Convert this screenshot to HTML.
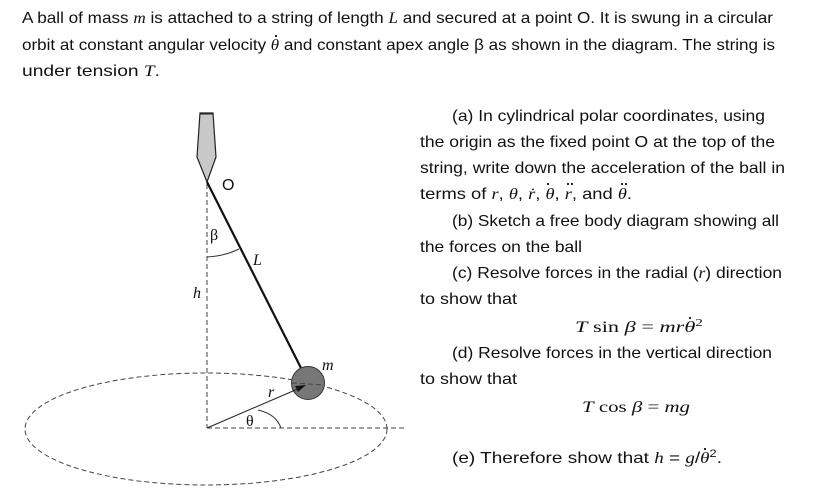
<!DOCTYPE html>
<html><head><meta charset="utf-8"><style>
html,body{margin:0;padding:0;background:#fff;}
svg{display:block;}
text{font-family:"Liberation Sans",sans-serif;font-size:16px;fill:#111;}
.m{font-family:"Liberation Serif",serif;font-style:italic;}
.r{font-family:"Liberation Serif",serif;}
</style></head><body>
<svg width="830" height="504" viewBox="0 0 830 504" xmlns="http://www.w3.org/2000/svg">
<text x="22" y="23" textLength="751" lengthAdjust="spacingAndGlyphs">A ball of mass <tspan class="m">m</tspan> is attached to a string of length <tspan class="m">L</tspan> and secured at a point O. It is swung in a circular</text>
<text x="22" y="50" textLength="753" lengthAdjust="spacingAndGlyphs">orbit at constant angular velocity <tspan class="m">θ</tspan> and constant apex angle β as shown in the diagram. The string is</text>
<text x="22" y="76" textLength="138" lengthAdjust="spacingAndGlyphs">under tension <tspan class="m">T</tspan>.</text>

<text x="452" y="121" textLength="313" lengthAdjust="spacingAndGlyphs">(a)  In cylindrical polar coordinates, using</text>
<text x="420" y="147" textLength="355" lengthAdjust="spacingAndGlyphs">the origin as the fixed point O at the top of the</text>
<text x="420" y="173" textLength="365" lengthAdjust="spacingAndGlyphs">string, write down the acceleration of the ball in</text>
<text x="420" y="199" textLength="212" lengthAdjust="spacingAndGlyphs">terms of <tspan class="m">r</tspan>, <tspan class="m">θ</tspan>, <tspan class="m">ṙ</tspan>, <tspan class="m">θ</tspan>, <tspan class="m">r</tspan>, and <tspan class="m">θ</tspan>.</text>
<text x="452" y="226" textLength="327" lengthAdjust="spacingAndGlyphs">(b)  Sketch a free body diagram showing all</text>
<text x="420" y="252" textLength="162" lengthAdjust="spacingAndGlyphs">the forces on the ball</text>
<text x="452" y="278" textLength="330" lengthAdjust="spacingAndGlyphs">(c)  Resolve forces in the radial (<tspan class="m">r</tspan>) direction</text>
<text x="420" y="304" textLength="97" lengthAdjust="spacingAndGlyphs">to show that</text>
<text x="575" y="332" textLength="128" lengthAdjust="spacingAndGlyphs" class="r"><tspan class="m">T</tspan> sin <tspan class="m">β</tspan> = <tspan class="m">mrθ</tspan><tspan font-size="11" dy="-6">2</tspan></text>
<text x="452" y="358" textLength="320" lengthAdjust="spacingAndGlyphs">(d)  Resolve forces in the vertical direction</text>
<text x="420" y="384" textLength="97" lengthAdjust="spacingAndGlyphs">to show that</text>
<text x="582" y="412" textLength="108" lengthAdjust="spacingAndGlyphs" class="r"><tspan class="m">T</tspan> cos <tspan class="m">β</tspan> = <tspan class="m">mg</tspan></text>
<text x="452" y="463" textLength="270" lengthAdjust="spacingAndGlyphs">(e)  Therefore show that <tspan class="m">h</tspan> = <tspan class="m">g</tspan>/<tspan class="m">θ</tspan><tspan font-size="11" dy="-6">2</tspan><tspan dy="6">.</tspan></text>

<!-- overdots -->
<g fill="#111">
<circle cx="276" cy="36" r="1.1"/>
<circle cx="548" cy="184" r="1.1"/>
<circle cx="568" cy="184" r="1.1"/><circle cx="572" cy="184" r="1.1"/>
<circle cx="622" cy="184" r="1.1"/><circle cx="626" cy="184" r="1.1"/>
<circle cx="690" cy="318" r="1.1"/>
<circle cx="705" cy="449" r="1.1"/>
</g>

<!-- diagram -->
<g stroke="#444" stroke-width="1" fill="none" stroke-dasharray="5,3">
<ellipse cx="206" cy="429" rx="181" ry="56"/>
<line x1="207" y1="184" x2="207" y2="428"/>
<line x1="207" y1="428" x2="405" y2="428"/>
</g>
<polygon points="200,113 213,113 216,157 207,182 197,157" fill="#c8c8c8" stroke="#222" stroke-width="1.2"/>
<line x1="200" y1="113.5" x2="213" y2="113.5" stroke="#222" stroke-width="2"/>
<line x1="207" y1="182" x2="302" y2="370" stroke="#111" stroke-width="2.2"/>
<circle cx="308" cy="383" r="16.5" fill="#777" stroke="#333" stroke-width="1"/>
<path d="M 292 383 L 325 385" stroke="#444" stroke-dasharray="5,3" fill="none"/>
<line x1="207" y1="428" x2="300" y2="388" stroke="#222" stroke-width="1"/>
<polygon points="306,385 295,386 298,392" fill="#111"/>
<path d="M 207 257 Q 225 256 239 249" stroke="#333" fill="none"/>
<path d="M 258 410 Q 276 414 281 428" stroke="#333" fill="none"/>
<text x="222" y="190" font-size="17">O</text>
<text x="210" y="240" class="r" font-size="15">β</text>
<text x="253" y="265" class="m" font-size="15">L</text>
<text x="193" y="298" class="m" font-size="15">h</text>
<text x="322" y="370" class="m" font-size="15">m</text>
<text x="268" y="397" class="m" font-size="15">r</text>
<text x="246" y="426" class="r" font-size="15">θ</text>
</svg>
</body></html>
